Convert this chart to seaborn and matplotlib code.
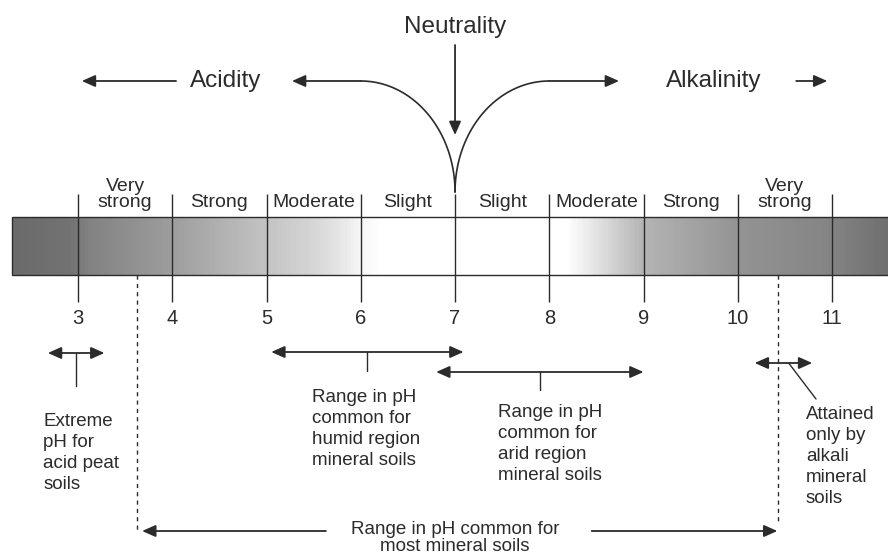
import numpy as np
import matplotlib
matplotlib.use("Agg")
import matplotlib.pyplot as plt
from matplotlib.colors import LinearSegmentedColormap
from matplotlib.patches import Rectangle
import seaborn as sns

# ── Data ──────────────────────────────────────────────────────────────────────
ph_ticks = [3, 4, 5, 6, 7, 8, 9, 10, 11]
zone_labels = ["Very\nstrong", "Strong", "Moderate", "Slight",
               "Slight", "Moderate", "Strong", "Very\nstrong"]
zone_centers = [3.5, 4.5, 5.5, 6.5, 7.5, 8.5, 9.5, 10.5]

# shading of the pH bar (pH position, grey level)
grad_ph = [2.30, 2.9, 3.1, 4.0, 5.0, 5.5, 5.8, 6.0, 6.2, 8.2, 8.4, 8.7, 9.0, 10.0, 11.0, 11.6]
grad_grey = [0.42, 0.45, 0.51, 0.62, 0.77, 0.84, 0.91, 0.97, 1.0, 1.0, 0.93, 0.82, 0.71,
             0.58, 0.52, 0.44]

peat_range = (2.68, 3.28)
humid_range = (5.05, 7.09)
arid_range = (6.80, 9.00)
alkali_range = (10.18, 10.79)
most_range = (3.63, 10.43)

peat_text = "Extreme\npH for\nacid peat\nsoils"
humid_text = "Range in pH\ncommon for\nhumid region\nmineral soils"
arid_text = "Range in pH\ncommon for\narid region\nmineral soils"
alkali_text = "Attained\nonly by\nalkali\nmineral\nsoils"
most_text = "Range in pH common for\nmost mineral soils"

# ── Style ─────────────────────────────────────────────────────────────────────
sns.set_theme(style="white")
plt.rcParams["font.family"] = ["Liberation Sans", "DejaVu Sans"]
INK = "#2b2b2b"

fig = plt.figure(figsize=(8.88, 5.54), dpi=100)
ax = fig.add_axes([0, 0, 1, 1])
ax.set_xlim(2.172, 11.594)
ax.set_ylim(554, 0)
ax.axis("off")


def arrow(x0, y0, x1, y1, both=False, lw=1.3):
    style = "<|-|>" if both else "-|>"
    ax.annotate("", xy=(x1, y1), xytext=(x0, y0),
                arrowprops=dict(arrowstyle=style + ",head_length=0.45,head_width=0.2",
                                color=INK, lw=lw, mutation_scale=18,
                                shrinkA=0, shrinkB=0))


# ── pH bar ────────────────────────────────────────────────────────────────────
bar_left, bar_right = grad_ph[0], grad_ph[-1]
bar_top, bar_bottom = 217, 275
stops = [((p - bar_left) / (bar_right - bar_left), (g, g, g)) for p, g in zip(grad_ph, grad_grey)]
cmap = LinearSegmentedColormap.from_list("phbar", stops)
ax.imshow(np.linspace(0, 1, 600)[None, :], cmap=cmap, aspect="auto",
          extent=(bar_left, bar_right, bar_bottom, bar_top), zorder=1)
ax.add_patch(Rectangle((bar_left, bar_top), bar_right - bar_left, bar_bottom - bar_top,
                       fill=False, edgecolor=INK, lw=1.0, zorder=2))

# division lines and numbers
ax.vlines(ph_ticks, 194, 302, color=INK, lw=1.0, zorder=3)
for p in ph_ticks:
    ax.text(p, 318, str(p), ha="center", va="center", fontsize=14.5, color=INK)
for c, lab in zip(zone_centers, zone_labels):
    ax.text(c, 211, lab, ha="center", va="bottom", fontsize=14, color=INK,
            linespacing=0.95)

# ── Acidity / Neutrality / Alkalinity ────────────────────────────────────────
ax.text(7, 27, "Neutrality", ha="center", va="center", fontsize=17.5, color=INK)
ax.text(4.57, 81, "Acidity", ha="center", va="center", fontsize=17.5, color=INK)
ax.text(9.74, 81, "Alkalinity", ha="center", va="center", fontsize=17.5, color=INK)
arrow(4.04, 81, 3.04, 81)
arrow(10.62, 81, 10.95, 81)
arrow(7, 45, 7, 135)

t = np.linspace(0, np.pi / 2, 80)
ax.plot(6 + np.cos(t), 192 - 111 * np.sin(t), color=INK, lw=1.2)
ax.plot(8 - np.cos(t), 192 - 111 * np.sin(t), color=INK, lw=1.2)
arrow(6.0, 81, 5.27, 81)
arrow(8.0, 81, 8.74, 81)

# ── Ranges ────────────────────────────────────────────────────────────────────
small = dict(ha="left", va="top", fontsize=13.5, color=INK, linespacing=1.3)

arrow(peat_range[0], 353, peat_range[1], 353, both=True)
ax.plot([np.mean(peat_range)] * 2, [353, 386], color=INK, lw=1.0)
ax.text(2.629, 413, peat_text, **small)

arrow(humid_range[0], 352, humid_range[1], 352, both=True)
ax.plot([np.mean(humid_range)] * 2, [352, 371], color=INK, lw=1.0)
ax.text(5.483, 389, humid_text, **small)

arrow(arid_range[0], 372, arid_range[1], 372, both=True)
ax.plot([np.mean(arid_range)] * 2, [372, 390], color=INK, lw=1.0)
ax.text(7.456, 404, arid_text, **small)

arrow(alkali_range[0], 363, alkali_range[1], 363, both=True)
ax.plot([10.54, 10.83], [363, 399], color=INK, lw=1.0)
ax.text(10.724, 406, alkali_text, **small)

# most mineral soils
ax.vlines(most_range[0], bar_bottom, 533, color=INK, lw=1.0, linestyles=(0, (3, 3)))
ax.vlines(most_range[1], bar_bottom, 525, color=INK, lw=1.0, linestyles=(0, (3, 3)))
arrow(5.63, 531, most_range[0] + 0.05, 531)
arrow(8.45, 531, most_range[1] - 0.01, 531)
ax.text(7, 521, most_text, ha="center", va="top", fontsize=13.5, color=INK,
        linespacing=1.0)

plt.savefig("out.png", dpi=100, facecolor="white")
